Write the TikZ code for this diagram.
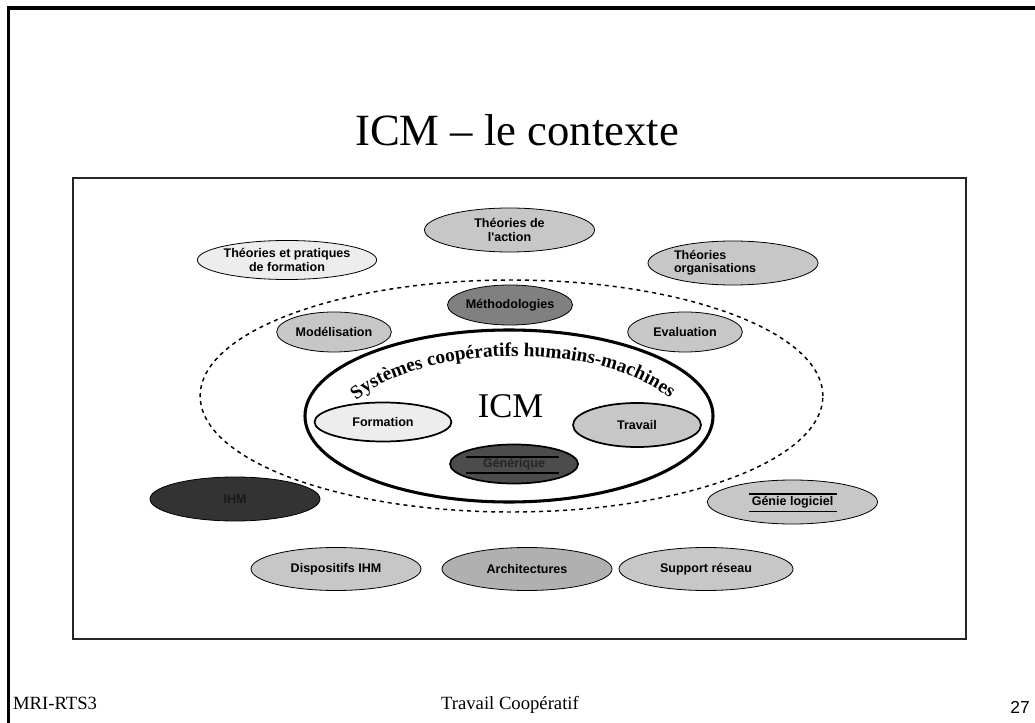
\documentclass[tikz,border=0pt]{standalone}
\usepackage{fontspec}
\setmainfont{Liberation Serif}
\newfontfamily\arialfont{Liberation Sans}
\usetikzlibrary{shapes.geometric,decorations.text,calc}

\begin{document}
\begin{tikzpicture}[x=0.75pt,y=-0.75pt,
    bulle/.style={ellipse,draw,line width=0.6pt,inner sep=0pt,align=center,
      font=\arialfont\bfseries\fontsize{9.4}{10}\selectfont,
      minimum width=127.5pt,minimum height=33pt},
    petite/.style={bulle,minimum width=86pt,minimum height=30pt},
    epaisse/.style={line width=1.3pt},
    clair/.style={fill=black!7},
    moyen/.style={fill=black!22},
    fonce/.style={fill=black!31},
    sombre/.style={fill=black!50},
    noir/.style={fill=black!70,text=black!85},
    tresnoir/.style={fill=black!80,text=black!90},
    pied/.style={anchor=base,font=\fontsize{14}{16}\selectfont}]
  \useasboundingbox (0,0) rectangle (1035,723);
  \draw[line width=2.3pt] (8.5,723) -- (8.5,8) -- (1035,8);
  \draw[line width=1.1pt,black!85] (73,178) rectangle (966,639);

  \node (titre) at (517,130) {\fontsize{33.5}{36}\selectfont ICM -- le contexte};

  \node[bulle,clair] (tpf) at (287,260) [minimum height=29.25pt] {Théories et pratiques\\de formation};
  \node[bulle,moyen] (tda) at (509.5,230) {Théories de\\l'action};
  \node[bulle,moyen,text width=88.5pt,align=left] (tor) at (733,263) {Théories\\organisations};

  \node[ellipse,draw,dashed,line width=1.1pt,minimum width=467pt,minimum height=174pt] (zone) at (511.5,396) {};
  \node[petite,sombre] (met) at (510,305) {Méthodologies};
  \node[petite,moyen] (mod) at (334,332) {Modélisation};
  \node[petite,moyen] (eva) at (685,332) {Evaluation};

  \node[ellipse,draw,line width=2.3pt,minimum width=306pt,minimum height=129pt] (scm) at (509,416) {};
  \path[decorate,decoration={text along path,text align=center,
      text={|\fontsize{14.5}{16}\selectfont\bfseries|Systèmes coopératifs humains-machines}}]
    (352,404) .. controls (418,343) and (602,338) .. (674,402);
  \node (icm) at (510.5,406) {\fontsize{26}{28}\selectfont ICM};

  \node[bulle,clair,epaisse] (for) at (383,422) [minimum width=102.75pt,minimum height=29.25pt] {Formation};
  \node[bulle,moyen,epaisse] (tra) at (637,425) [minimum width=96pt] {Travail};
  \node[bulle,noir,epaisse] (gen) at (514,464) [minimum width=96pt,minimum height=29.25pt] {Générique};
  \draw[line width=0.8pt] ($(gen)+(-48,-7)$) -- ($(gen)+(45,-7)$)
                          ($(gen)+(-48,9)$) -- ($(gen)+(45,9)$);

  \node[bulle,tresnoir] (ihm) at (235,499) {IHM};
  \node[bulle,moyen] (gl) at (792.5,502) [minimum height=33pt] {Génie logiciel};
  \draw[line width=0.8pt] ($(gl)+(-43.5,-8)$) -- ($(gl)+(44,-8)$)
                          ($(gl)+(-43.5,9.5)$) -- ($(gl)+(44,9.5)$);

  \node[bulle,moyen] (dis) at (336,569) [minimum height=32.25pt] {Dispositifs IHM};
  \node[bulle,fonce] (arc) at (527,569) [minimum height=32.25pt] {Architectures};
  \node[bulle,moyen] (sup) at (706,569) [minimum width=130.5pt,minimum height=32.25pt] {Support réseau};

  \node[pied] (auteur) at (55,709) {MRI-RTS3};
  \node[pied] (cours) at (510,709) {Travail Coopératif};
  \node[anchor=base] (num) at (1020,713) {\arialfont\fontsize{13}{15}\selectfont 27};
\end{tikzpicture}
\end{document}
